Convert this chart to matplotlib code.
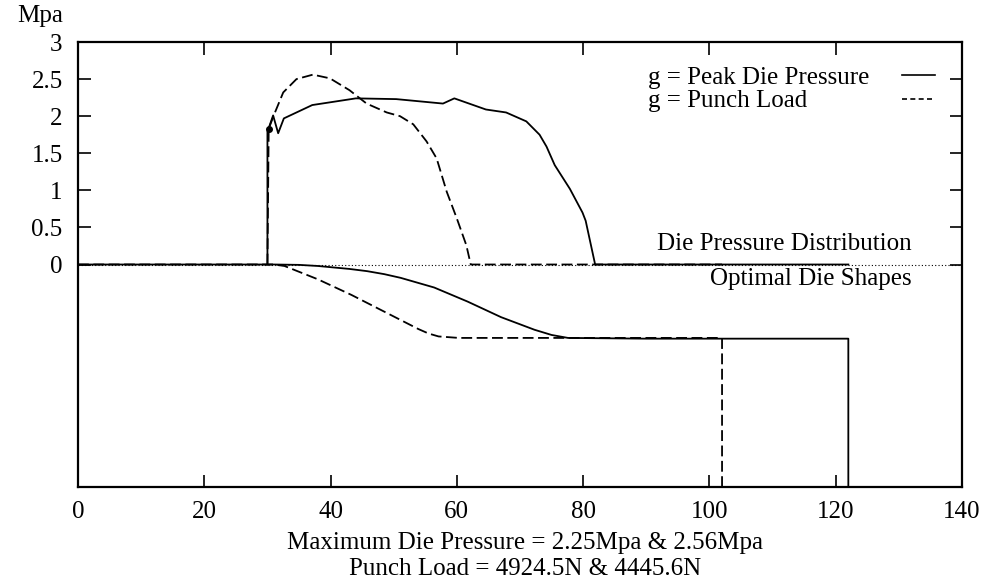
import matplotlib
matplotlib.use("Agg")
import matplotlib.pyplot as plt
from matplotlib.lines import Line2D

plt.rcParams['font.family'] = ['Liberation Serif', 'DejaVu Serif']
plt.rcParams['font.size'] = 18

# die pressure distribution (upper part), g = peak die pressure
press_peak_x = [30, 30, 30.9, 31.7, 32.6, 37.1, 44.0, 50.4, 57.8, 59.6, 64.6, 67.8, 71.0, 73.1,
                74.2, 75.5, 77.9, 79.9, 80.4, 81.9, 122]
press_peak_y = [0, 1.79, 2.01, 1.77, 1.97, 2.15, 2.24, 2.23, 2.17, 2.24, 2.09, 2.05, 1.93, 1.75,
                1.59, 1.34, 1.02, 0.70, 0.59, 0, 0]

# g = punch load
press_punch_x = [30, 30.2, 31.0, 32.5, 34.6, 37.2, 39.9, 43.0, 45.7, 48.9, 51.0, 53.1, 55.2,
                 56.8, 58.4, 60.0, 61.5, 62.2, 102]
press_punch_y = [0, 1.83, 2.01, 2.32, 2.50, 2.56, 2.51, 2.35, 2.17, 2.05, 2.00, 1.89, 1.66,
                 1.43, 0.98, 0.62, 0.26, 0, 0]

# optimal die shapes (lower part)
shape_peak_x = [0, 31, 35, 38, 40.5, 43, 45.8, 48.5, 51.1, 56.4, 61.7, 67.0, 72.3, 75, 77.6, 90, 122, 122]
shape_peak_y = [0, 0, -0.005, -0.02, -0.04, -0.06, -0.09, -0.13, -0.18, -0.31, -0.50, -0.71, -0.88,
                -0.95, -0.99, -1.0, -1.0, -3]

shape_punch_x = [0, 31, 32.7, 38.0, 43.3, 48.6, 53.9, 55.5, 57.1, 60.3, 77.2, 102, 102]
shape_punch_y = [0, 0, -0.02, -0.20, -0.41, -0.64, -0.87, -0.93, -0.97, -0.99, -0.99, -0.99, -3]

zero_x = [0, 140]
zero_y = [0, 0]

fig = plt.figure(figsize=(9.9, 5.81), dpi=100)
ax = fig.add_axes([0.0788, 0.1618, 0.8929, 0.7659])

ax.plot(zero_x, zero_y, color='black', lw=0.8, linestyle=(0, (1, 2)))
ax.plot(press_peak_x, press_peak_y, color='black', lw=1.3)
ax.plot(press_punch_x, press_punch_y, color='black', lw=1.3, linestyle=(0, (6, 2.5)))
ax.plot(press_punch_x[1], press_punch_y[1], 'o', color='black', ms=4)
ax.plot(shape_peak_x, shape_peak_y, color='black', lw=1.3)
ax.plot(shape_punch_x, shape_punch_y, color='black', lw=1.3, linestyle=(0, (6, 2.5)))

ax.set_xlim(0, 140)
ax.set_ylim(-3, 3)
ax.set_xticks([0, 20, 40, 60, 80, 100, 120, 140])
ax.set_yticks([0, 0.5, 1, 1.5, 2, 2.5, 3])
ax.set_yticklabels(['0', '0.5', '1', '1.5', '2', '2.5', '3'])
ax.tick_params(direction='in', length=9, width=1.2, top=True, right=True, labelsize=18)
ax.tick_params(axis='x', pad=10)
ax.tick_params(axis='y', pad=11)
for s in ax.spines.values():
    s.set_linewidth(1.6)

ax.text(132, 0.27, 'Die Pressure Distribution', ha='right', va='center', fontsize=18)
ax.text(132, -0.2, 'Optimal Die Shapes', ha='right', va='center', fontsize=18)

# legend, text left-aligned with keys on the right
ax.text(0.645, 0.919, 'g = Peak Die Pressure', transform=ax.transAxes, ha='left', va='center', fontsize=18)
ax.text(0.645, 0.867, 'g = Punch Load', transform=ax.transAxes, ha='left', va='center', fontsize=18)
ax.add_line(Line2D([0.932, 0.97], [0.925, 0.925], transform=ax.transAxes, color='black', lw=1.2))
ax.add_line(Line2D([0.932, 0.97], [0.873, 0.873], transform=ax.transAxes, color='black', lw=1.2,
                   linestyle=(0, (3, 2))))

fig.text(40 / 990, 1 - 16 / 581, 'Mpa', ha='center', va='center', fontsize=18)
fig.text(525 / 990, 1 - 543 / 581, 'Maximum Die Pressure = 2.25Mpa & 2.56Mpa', ha='center', va='center', fontsize=18)
fig.text(525 / 990, 1 - 569 / 581, 'Punch Load = 4924.5N & 4445.6N', ha='center', va='center', fontsize=18)

fig.savefig('out.png', dpi=100)
